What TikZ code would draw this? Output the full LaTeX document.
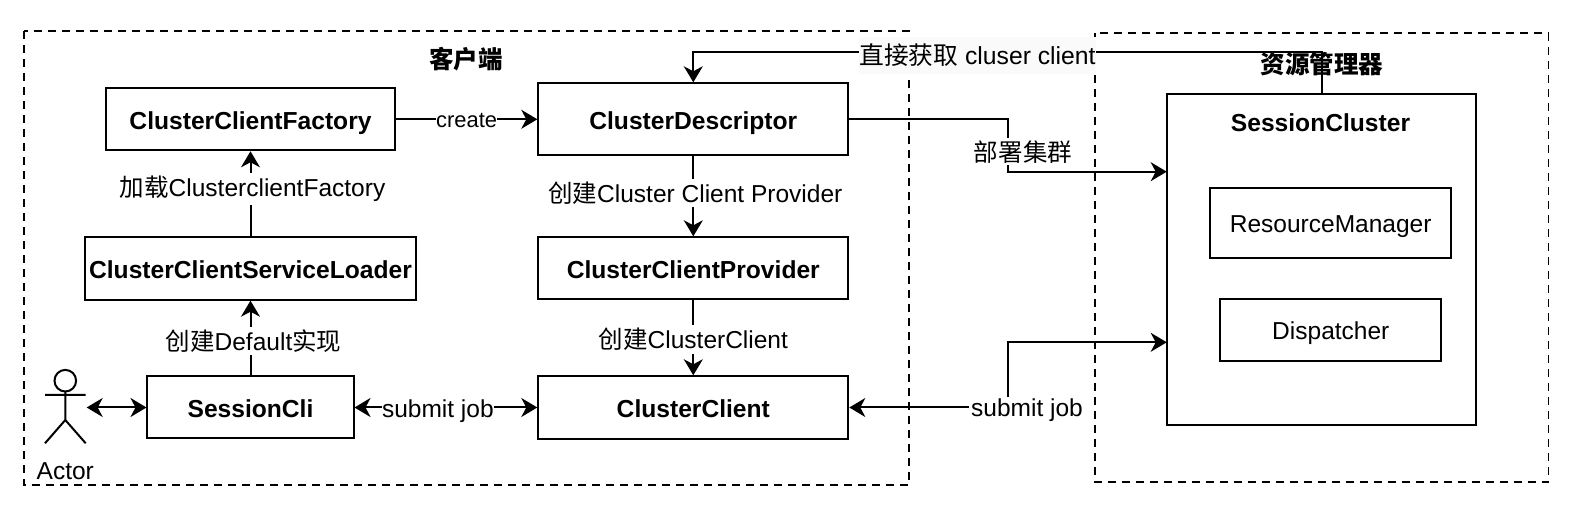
\documentclass[tikz,border=0pt]{standalone}
\usepackage{fontspec}
\setmainfont{Liberation Sans}
\newfontfamily\cjk{Noto Sans CJK SC}
\usetikzlibrary{arrows.meta}
\newcommand{\zh}[1]{{\cjk #1}}
\tikzset{
	box/.style = { draw, line width = 1bp, inner sep = 0pt, text height = 10bp, text depth = 0pt,
		font = \fontsize{12.35}{14}\bfseries\selectfont },
	plainbox/.style = { box, text height = 9bp, font = \fontsize{12.3}{14}\selectfont },
	edgelabel/.style = { fill = white, inner xsep = 0pt, inner ysep = 1.5bp },
	group/.style = { draw, line width = 0.8bp, dash pattern = on 4bp off 3bp },
	wire/.style = { line width = 1bp, >={Stealth[length = 8bp, width = 9.5bp, inset = 2.5bp]} }
}
\begin{document}
\begin{tikzpicture}[ x = 0.5bp, y = -0.5bp, font = \fontsize{12.3}{14}\selectfont ]
	\useasboundingbox (0,0) rectangle (1578,505);
	\draw [ group ] (24,31) rectangle (909,485);
	\draw [ group ] (1094.7,33.3) rectangle (1548.3,482.3);
	\node (12) at (466,59) { \textbf{\zh{客户端}} };
	\node (1) [ box, minimum width = 144.5bp, minimum height = 31bp ] at (250.5,119.3)
		{ ClusterClientFactory };
	\node (2) [ box, minimum width = 155bp, minimum height = 36bp ] at (693.3,119.3)
		{ ClusterDescriptor };
	\node (3) [ box, minimum width = 165bp, minimum height = 31.2bp ] at (250.5,268.5)
		{ ClusterClientServiceLoader };
	\node (4) [ box, minimum width = 155bp, minimum height = 31bp ] at (693.3,268.3)
		{ ClusterClientProvider };
	\node (5) [ box, minimum width = 103bp, minimum height = 31bp ] at (250.5,407.5)
		{ SessionCli };
	\node (6) [ box, minimum width = 155bp, minimum height = 31.2bp ] at (693.3,407.5)
		{ ClusterClient };
	\node (7) [ box, minimum width = 154.8bp, minimum height = 165.3bp ] at (1321.5,259.7) {};
	\node (8) [ box, draw = none ] at (1320.5,121.7) { SessionCluster };
	\node (9) [ plainbox, minimum width = 120.7bp, minimum height = 35.2bp ] at (1330.7,223.2)
		{ ResourceManager };
	\node (10) [ plainbox, minimum width = 110.5bp, minimum height = 31bp ] at (1330.8,330.3)
		{ Dispatcher };
	\node (11) [ inner sep = 0pt, minimum width = 21bp, minimum height = 37bp ] at (65.3,407.5) {};
	\coordinate (a) at (1166.7,171.7);
	\coordinate (b) at (1166.7,342.3);
	\draw [ wire, -> ] (1) to node [ edgelabel, yshift = -0.5bp, font = \fontsize{11}{14}\selectfont ] { create } (2);
	\draw [ wire, -> ] (3) to node [ edgelabel, pos = 0.56, xshift = 1bp ] { \zh{加载}ClusterclientFactory } (1);
	\draw [ wire, -> ] (5) to node [ edgelabel, pos = 0.46, xshift = 1.5bp ] { \zh{创建}Default\zh{实现} } (3);
	\draw [ wire, -> ] (2) to node [ edgelabel, pos = 0.46, xshift = 1bp ] { \zh{创建}Cluster Client Provider } (4);
	\draw [ wire, -> ] (4) to node [ edgelabel, pos = 0.52 ] { \zh{创建}ClusterClient } (6);
	\draw [ wire, <-> ] (11) to (5);
	\draw [ wire, <-> ] (5) to node [ edgelabel, pos = 0.456, yshift = -2bp ] { submit job } (6);
	\draw [ wire, -> ] (2) -- (1008.3,119.3) |- (a);
	\draw [ wire, <-> ] (6) -- (1008.3,407.5) |- (b);
	\draw [ wire, -> ] (7.north) -- ++(0,-41.7) -| (2.north);
	\node (13) [ fill = white, inner sep = 1bp ] at (1023,151.7) { \zh{部署集群} };
	\node (14) [ fill = white, inner sep = 1bp ] at (1027,410) { submit job };
	\node (15) [ fill = black!2, inner xsep = 0pt, minimum height = 13.8bp,
		font = \fontsize{12.4}{14}\selectfont ] at (977.5,55.5) { \zh{直接获取} cluser client };
	\node (16) at (1322,63.8) { \textbf{\zh{资源管理器}} };
	% actor
	\draw [ line width = 1bp ] (65.3,380.7) circle (5.4bp);
	\draw [ line width = 1bp ] (45,395) -- (85.7,395) (65.3,391.5) -- (65.3,420) -- (45,443.3)
		(65.3,420) -- (85.7,443.3);
	\node (17) [ fill = white, inner sep = 1bp ] at (65.3,471) { Actor };
\end{tikzpicture}
\end{document}
